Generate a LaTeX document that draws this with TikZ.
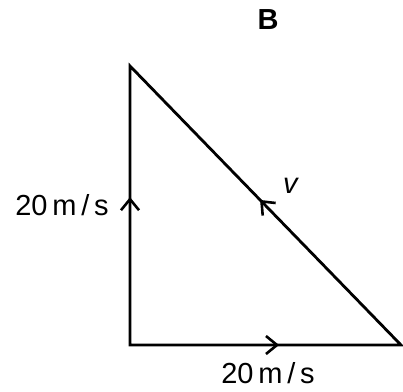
\documentclass[tikz,border=0pt]{standalone}
\usepackage{fontspec}
\setmainfont{Liberation Sans}
\usetikzlibrary{arrows.meta,decorations.markings}

\begin{document}
\begin{tikzpicture}[
  x=1pt, y=-1pt, line join=miter,
  every node/.style={font=\fontsize{29}{32}\selectfont, inner sep=0pt},
  side/.style={line width=2.8pt},
  vecmark/.style={postaction=decorate, decoration={markings,
      mark=at position #1 with {\arrow[line width=2.6pt]{Straight Barb[length=11pt,width=18pt]}}}}
]
  \useasboundingbox (0,0) rectangle (403,391);
  \coordinate (top) at (130,66);
  \coordinate (org) at (130,345);
  \coordinate (tip) at (401,345);

  \draw[side] (org) -- (top) -- (tip) -- cycle;
  \path[vecmark=0.53] (org) -- (top);
  \path[vecmark=0.55] (org) -- (tip);
  \path[vecmark=0.52] (tip) -- (top);

  \node (title) at (268,20) {\textbf{B}};
  \node (vleft) at (62,205) {20\,m\,/\,s};
  \node (vbottom) at (268,373) {20\,m\,/\,s};
  \node (vlabel) at (291,186) {\textit{v}};
\end{tikzpicture}
\end{document}
